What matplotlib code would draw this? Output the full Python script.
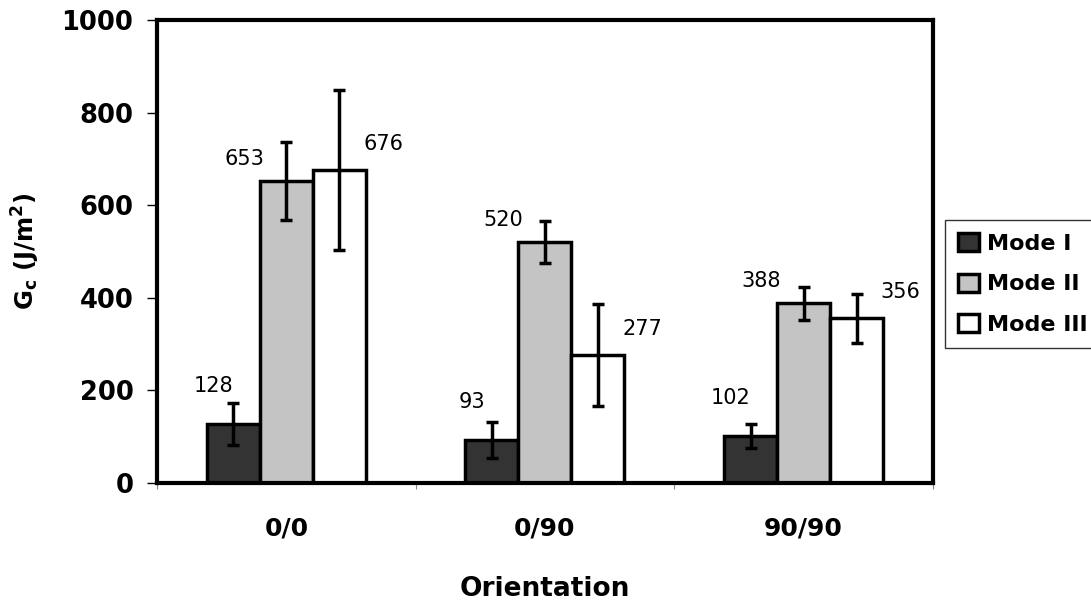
import numpy as np
import matplotlib.pyplot as plt

plt.rcParams['font.family'] = ['DejaVu Sans']
plt.rcParams['mathtext.fontset'] = 'dejavusans'

#%% DATA
orientations = ['0/0', '0/90', '90/90']
modes = ['Mode I', 'Mode II', 'Mode III']

mode_1 = [128, 93, 102]
mode_2 = [653, 520, 388]
mode_3 = [676, 277, 356]

err_1 = [45, 38, 26]
err_2 = [84, 45, 36]
err_3 = [173, 110, 53]

#%% PLOT
fig = plt.figure(figsize=(10.91, 6.06), dpi=100)
ax = fig.add_axes([0.144, 0.203, 0.711, 0.764])

x = np.arange(len(orientations)) + 0.5
w = 0.205
series = [mode_1, mode_2, mode_3]
errs = [err_1, err_2, err_3]
colors = ['#333333', '#c4c4c4', 'white']
# label offsets in pixels (dx, dy) from bar top
offsets = [(-20, 38), (-42, 22), (44, 26)]

for i, (vals, e, c, name) in enumerate(zip(series, errs, colors, modes)):
    pos = x + (i - 1) * w
    ax.bar(pos, vals, w, color=c, edgecolor='black', linewidth=2.5, label=name, zorder=2)
    ax.errorbar(pos, vals, yerr=e, fmt='none', ecolor='black', elinewidth=2.5,
                capsize=4.5, capthick=2.5, zorder=3)
    dx, dy = offsets[i]
    for p, v in zip(pos, vals):
        ax.annotate(str(v), (p, v), xytext=(dx, dy), textcoords='offset pixels',
                    ha='center', va='center', fontsize=15)

ax.set_xlim(0, 3)
ax.set_ylim(0, 1000)
ax.set_yticks(np.arange(0, 1001, 200))
ax.set_xticks(x)
ax.set_xticklabels(orientations, fontsize=18, fontweight='bold')
ax.set_xticks([0, 1, 2, 3], minor=True)
ax.tick_params(axis='x', which='major', length=0, pad=24)
ax.tick_params(axis='x', which='minor', length=4, width=0.8, color='#888888')
ax.tick_params(axis='y', length=7, width=1, pad=10)
for lab in ax.get_yticklabels():
    lab.set_fontsize(18.5)
    lab.set_fontweight('bold')

for s in ax.spines.values():
    s.set_linewidth(3)

ax.set_ylabel('G$_\\mathbf{c}$ (J/m$^\\mathbf{2}$)', fontsize=17.5, fontweight='bold')
ax.yaxis.set_label_coords(-0.148, 0.5)
ax.set_xlabel('Orientation', fontsize=19, fontweight='bold', labelpad=26)

leg = fig.legend(loc='upper left', bbox_to_anchor=(945 / 1091, 1 - 220 / 606),
                 borderaxespad=0, prop={'size': 16, 'weight': 'bold'}, frameon=True,
                 fancybox=False, edgecolor='black', handlelength=0.95, handleheight=0.85,
                 handletextpad=0.35, labelspacing=0.9, borderpad=0.6)
leg.get_frame().set_linewidth(1)

fig.savefig('out.png', dpi=100)
